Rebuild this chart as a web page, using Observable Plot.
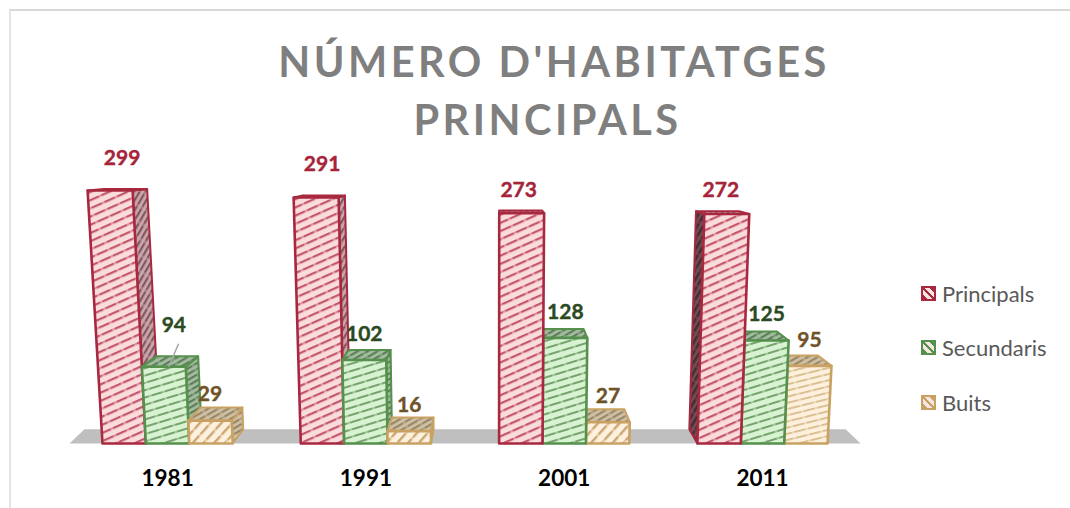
<!DOCTYPE html>
<html>
<head>
<meta charset="utf-8">
<script src="https://cdn.jsdelivr.net/npm/d3@7"></script>
<script src="https://cdn.jsdelivr.net/npm/@observablehq/plot@0.6"></script>
<style>
  html, body { margin: 0; padding: 0; background: #fff; }
  #page { position: relative; width: 1070px; height: 508px; overflow: hidden; font-family: Lato, sans-serif; background: #fff; }
  #frame { position: absolute; left: 9px; top: 9px; right: -4px; bottom: -4px; border-top: 2px solid #d9d9d9; border-left: 2px solid #e4e4e4; }
  .title { position: absolute; top: 0; text-align: center; font-weight: 700; font-size: 41.5px; letter-spacing: 3.5px; color: #7f7f7f; line-height: 58px; white-space: nowrap; }
  #chart { position: absolute; left: 0; top: 140px; }
  #legend { position: absolute; left: 921px; top: 0; }
  .item { position: absolute; left: 0; display: flex; align-items: center; gap: 6px; font-size: 22px; color: #595959; white-space: nowrap; height: 26px; }
  .sw { width: 11px; height: 11px; border: 2px solid; display: block; flex: none; }
</style>
</head>
<body>
<div id="page">
  <div id="frame"></div>
  <div class="title" id="t1" style="left:0;width:1108px;top:32px"></div>
  <div class="title" id="t2" style="left:0;width:1095px;top:90px"></div>
  <div id="chart"></div>
  <div id="legend"></div>
</div>
<script>
const titleLines = ["NÚMERO D'HABITATGES", "PRINCIPALS"];
const years = [1981, 1991, 2001, 2011];
const series = ["Principals", "Secundaris", "Buits"];
const principals = [299, 291, 273, 272];
const secundaris = [94, 102, 128, 125];
const buits = [29, 16, 27, 95];
const seriesValues = [principals, secundaris, buits];

// layout of the perspective drawing
const W = 905, H = 368, baseY = 303, topY = 50;
const firstBar = 102, groupStep = 198.3, barW = 43.4;
const vx = 495, vy = 20, lean = 1.5e-4, depthX = 0.04, depthY = 0.05;
const labelColor = ["#a6243a", "#2b4a22", "#6f5228"];
const edge = ["#a8283f", "#55904c", "#c9a263"];
const labelNudge = { "0-0": [12, -6], "1-0": [6, -7], "2-0": [-3, 3], "3-0": [-6, 2], "0-1": [10, -15] };

const yS = Plot.scale({ y: { type: "pow", exponent: 1.03, domain: [0, 299], range: [baseY, topY] } });
const backX = x => x + (vx - x) * depthX;
const backY = py => py - (py - vy) * depthY;
const pt = (x, py) => ({ x, v: yS.invert(py) });
const poly = (points, fill, stroke, sw = 1.5) =>
  Plot.line(points, { x: "x", y: "v", fill, stroke, strokeWidth: sw, curve: "linear-closed", strokeLinejoin: "round" });

const center = i => firstBar + groupStep * i + barW * 1.5;

function barMarks(g, s) {
  const value = seriesValues[s][g];
  const py = yS.apply(value), h = baseY - py;
  const l0 = firstBar + groupStep * g + barW * s, r0 = l0 + barW;
  const tl = l0 + (l0 - vx) * lean * h, tr = r0 + (r0 - vx) * lean * h;
  const key = ["red", "green", "tan"][s];
  const short = value < 50 ? "Steep" : "";
  const marks = [];
  // side faces
  if (backX(tr) > tr)
    marks.push(poly([pt(tr, py), pt(r0, baseY), pt(backX(r0), backY(baseY)), pt(backX(tr), backY(py))], `url(#${key}Side)`, edge[s], 2));
  if (s === 0 && g === 3)
    marks.push(poly([pt(tl, py), pt(l0, baseY), pt(backX(l0), backY(baseY)), pt(backX(tl), backY(py))], `url(#redDark)`, edge[s], 2));
  // top face
  marks.push(poly([pt(tl, py), pt(tr, py), pt(backX(tr), backY(py)), pt(backX(tl), backY(py))], `url(#${key}Side)`, edge[s], 2));
  // front face
  marks.push(poly([pt(l0, baseY), pt(r0, baseY), pt(tr, py), pt(tl, py)], `url(#${key}${short})`, edge[s], 2.6));
  return marks;
}

const barsMarks = years.flatMap((_, g) => {
  const order = center(g) > vx ? [2, 1, 0] : [0, 1, 2];
  return order.flatMap(s => barMarks(g, s));
});

const labelMarks = years.flatMap((_, g) => series.map((_, s) => {
  const value = seriesValues[s][g];
  const py = yS.apply(value), h = baseY - py;
  const l0 = firstBar + groupStep * g + barW * s;
  const cx = (l0 + l0 + barW) / 2 + ((l0 + barW / 2) - vx) * lean * h;
  const [nx, ny] = labelNudge[`${g}-${s}`] || [0, 0];
  return Plot.text([value], {
    x: () => cx, y: d => d, text: d => String(d),
    dx: nx, dy: -26 + ny, fill: labelColor[s], stroke: labelColor[s], strokeWidth: 0.4,
    fontSize: 21, fontWeight: 700
  });
}));

// leader line of the label 94
const py94 = yS.apply(secundaris[0]);
const leader = Plot.link([secundaris[0]], {
  x1: () => firstBar + barW * 1.5 + 1, x2: () => firstBar + barW * 1.5 + 11,
  y1: () => yS.invert(py94), y2: () => yS.invert(py94 - 23),
  stroke: "#a6a6a6", strokeWidth: 1.5
});

const ground = poly([
  pt(firstBar - 33, baseY), pt(firstBar + groupStep * 3 + barW * 3 + 33, baseY),
  pt(firstBar + groupStep * 3 + barW * 3 + 18, backY(baseY)), pt(firstBar - 18, backY(baseY))
], "#bfbfbf", "none", 0);

const centers = years.map((_, i) => center(i));
const chart = Plot.plot({
  width: W, height: H, marginLeft: 0, marginRight: 0, marginTop: 0, marginBottom: H - baseY,
  style: { fontFamily: "Lato, sans-serif", background: "transparent", overflow: "visible" },
  x: { type: "linear", domain: [0, W], range: [0, W] },
  y: { type: "pow", exponent: 1.03, domain: [0, 299], range: [baseY, topY], axis: null },
  marks: [
    ground,
    ...barsMarks,
    leader,
    ...labelMarks,
    Plot.axisX(centers, {
      tickSize: 0, tickPadding: 27, anchor: "bottom", label: null,
      tickFormat: d => String(years[centers.indexOf(d)]),
      fontSize: 22.5, fontWeight: 700, fill: "#000"
    })
  ]
});
document.getElementById("chart").appendChild(chart);

// hatch patterns
const defs = d3.select(chart).append("defs");
function hatch(id, bg, line, angle, period, thick) {
  const p = defs.append("pattern").attr("id", id).attr("patternUnits", "userSpaceOnUse")
    .attr("width", 14).attr("height", period).attr("patternTransform", `rotate(${angle})`);
  p.append("rect").attr("width", 14).attr("height", period).attr("fill", bg);
  p.append("rect").attr("y", 0).attr("width", 11).attr("height", thick).attr("fill", line);
  p.append("rect").attr("x", 11).attr("y", 0).attr("width", 3).attr("height", thick).attr("fill", line).attr("opacity", 0.55);
}
hatch("red", "#fbdcdd", "#c4566a", -24, 7.5, 2.2);
hatch("green", "#d8f3d2", "#76a26d", -17, 7, 2);
hatch("greenSteep", "#d8f3d2", "#76a26d", -40, 7, 2);
hatch("tan", "#fdf1de", "#d8bb8c", -14, 6, 1.8);
hatch("tanSteep", "#fdf1de", "#c9a672", -48, 8, 2.4);
hatch("redSide", "#cfa5ac", "#7c5a60", -60, 5, 2.2);
hatch("redDark", "#7d4a53", "#3c3236", -60, 5, 2.6);
hatch("greenSide", "#a3bd9f", "#5f7d5b", -30, 5, 2.2);
hatch("tanSide", "#cfc1a8", "#9a8763", -30, 5, 2.2);

// title
document.getElementById("t1").textContent = titleLines[0];
document.getElementById("t2").textContent = titleLines[1];

// legend
const legendTop = [280, 334, 389];
const legend = d3.select("#legend");
series.forEach((name, i) => {
  const item = legend.append("div").attr("class", "item").style("top", legendTop[i] + "px");
  item.append("span").attr("class", "sw")
    .style("border-color", edge[i])
    .style("background", `linear-gradient(45deg, ${edge[i]} 0 22%, #f6e6e2 22% 45%, ${edge[i]} 45% 55%, #f6e6e2 55% 78%, ${edge[i]} 78%)`);
  item.append("span").text(name);
});
</script>
</body>
</html>
